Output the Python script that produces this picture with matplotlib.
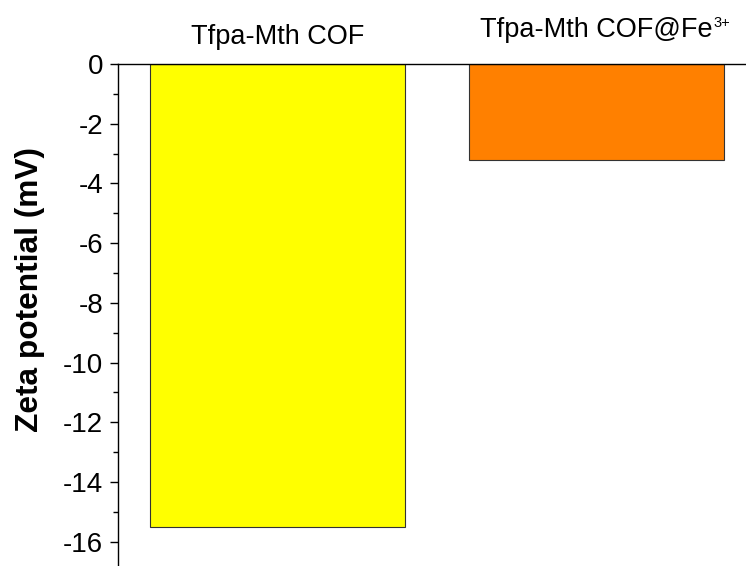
import matplotlib
matplotlib.use("Agg")
import matplotlib.pyplot as plt
from matplotlib.ticker import MultipleLocator
import matplotlib.transforms as mtransforms

categories = ["Tfpa-Mth COF", "Tfpa-Mth COF@Fe"]
superscripts = ["", "3+"]
values = [-15.5, -3.2]
colors = ["#FFFF00", "#FF8000"]

plt.rcParams['font.family'] = ['Liberation Sans', 'DejaVu Sans']

W, H = 746, 566
fig = plt.figure(figsize=(W / 100, H / 100), dpi=100)
left = 118 / W
top_px = 64
ax = fig.add_axes([left, 0, 1 - left, (H - top_px) / H])

x = [1, 2]
ax.bar(x, values, width=0.8, color=colors, edgecolor="#333333", linewidth=0.8, zorder=2)

ax.set_xlim(0.5, 0.5 + (W - 118) / 319)
ax.set_ylim(-(H - top_px) / 29.85, 0)

ax.spines['bottom'].set_visible(False)
ax.spines['right'].set_visible(False)
ax.spines['left'].set_linewidth(1.0)
ax.spines['top'].set_linewidth(1.0)

ax.set_xticks([])
ax.yaxis.set_major_locator(MultipleLocator(2))
ax.yaxis.set_minor_locator(MultipleLocator(1))
ax.tick_params(axis='y', which='major', direction='out', length=5.8, width=1.0, pad=5, labelsize=20)
ax.tick_params(axis='y', which='minor', direction='out', length=3.6, width=1.0)
ax.set_yticks([0, -2, -4, -6, -8, -10, -12, -14, -16])
ax.set_yticklabels(["0", "-2", "-4", "-6", "-8", "-10", "-12", "-14", "-16"])

ax.set_ylabel("Zeta potential (mV)", fontsize=22.8, fontweight='bold')
ax.yaxis.set_label_coords(45 / W, 1 - 290 / H, transform=fig.transFigure)

trans = mtransforms.blended_transform_factory(ax.transData, fig.transFigure)
label_y = [1 - 44 / H, 1 - 37 / H]
texts = []
for xi, lab, ly in zip(x, categories, label_y):
    t = ax.text(xi, ly, lab, transform=trans, ha='center', va='baseline', fontsize=19.5)
    texts.append(t)

fig.canvas.draw()
renderer = fig.canvas.get_renderer()
for t, sup, ly in zip(texts, superscripts, label_y):
    if sup:
        bb = t.get_window_extent(renderer)
        fig.text((bb.x1 + 1) / W, ly + 10 / H, sup, ha='left', va='baseline', fontsize=10.5)

fig.savefig("out.png", dpi=100)
